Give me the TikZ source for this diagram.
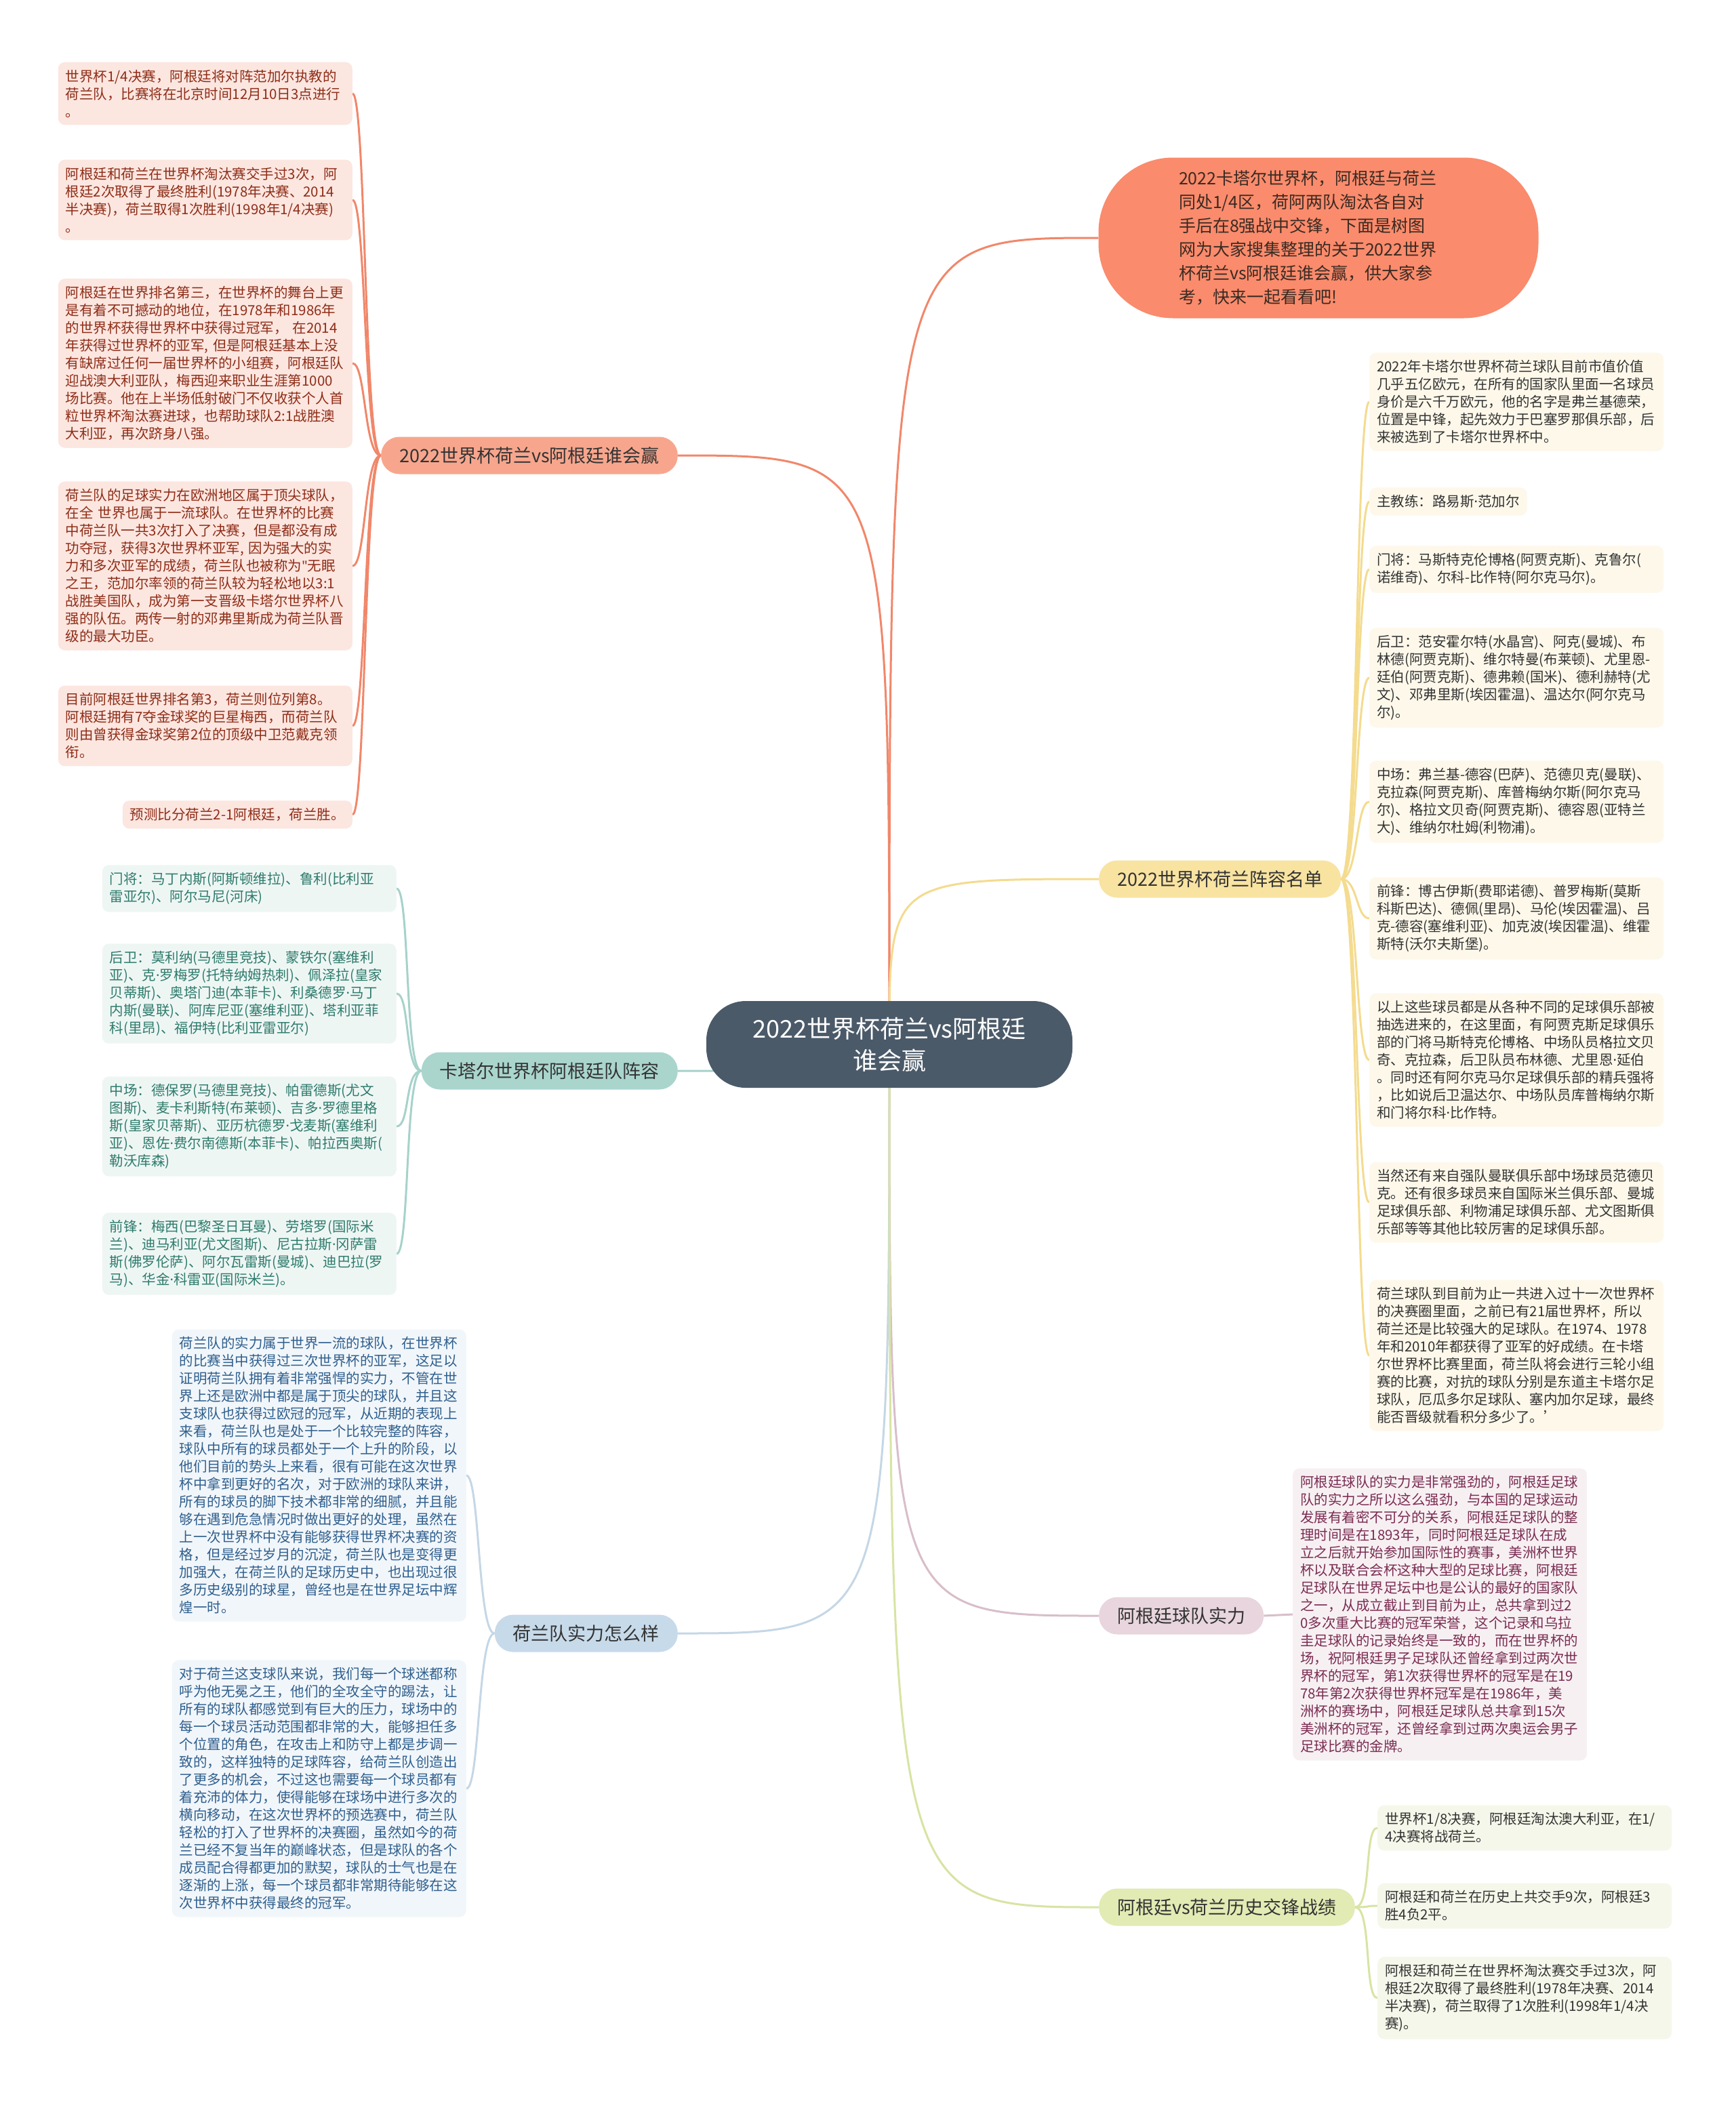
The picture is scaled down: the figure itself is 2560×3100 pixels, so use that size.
\documentclass[tikz,border=0pt]{standalone}
\usepackage{fontspec}
\setmainfont{Noto Sans CJK SC}
\newfontfamily\dotfont{Noto Sans}
\newcommand{\mdot}{{\dotfont ·}}
\usetikzlibrary{backgrounds}
\definecolor{hubfill}{HTML}{4B5A69}
\definecolor{leadfill}{HTML}{FA8B6C}
\definecolor{leadtext}{HTML}{3B2A22}
\definecolor{brtext}{HTML}{333333}
\definecolor{olink}{HTML}{F1876A}
\definecolor{obfill}{HTML}{F7A68D}
\definecolor{pkfill}{HTML}{FCE6E0}
\definecolor{pktext}{HTML}{8E2D17}
\definecolor{tlink}{HTML}{A6D2CA}
\definecolor{tbfill}{HTML}{A9D5CD}
\definecolor{tkfill}{HTML}{EEF6F4}
\definecolor{tktext}{HTML}{2E7B6C}
\definecolor{blink}{HTML}{C5D7E6}
\definecolor{bbfill}{HTML}{C7DAEA}
\definecolor{bkfill}{HTML}{F1F6FA}
\definecolor{bktext}{HTML}{2F5F8E}
\definecolor{ylink}{HTML}{F4DB8E}
\definecolor{ybfill}{HTML}{F8E3A1}
\definecolor{ykfill}{HTML}{FDF8EA}
\definecolor{mlink}{HTML}{D8BECA}
\definecolor{mbfill}{HTML}{E8D5DD}
\definecolor{mkfill}{HTML}{F7F0F2}
\definecolor{mktext}{HTML}{7A2C52}
\definecolor{glink}{HTML}{D7E4A3}
\definecolor{gbfill}{HTML}{E1EBB3}
\definecolor{gkfill}{HTML}{F5F7EA}
\tikzset{
  hub/.style    = {rectangle, rounded corners=58pt, fill=hubfill, text=white, minimum width=540pt, minimum height=128pt, align=center, font=\fontsize{36}{47}\selectfont},
  lead/.style   = {rectangle, rounded corners=110pt, fill=leadfill, text=leadtext, minimum width=649pt, minimum height=237pt, text width=412pt, align=left, font=\fontsize{25}{35}\selectfont},
  branch/.style = {rectangle, rounded corners=27pt, inner xsep=27pt, minimum height=55pt, text=brtext, font=\fontsize{27}{32}\selectfont},
  leafbase/.style = {rectangle, rounded corners=10pt, inner xsep=11pt, inner ysep=11pt, align=left, font=\fontsize{20.5}{26}\selectfont},
  leaf/.style   = {leafbase, text width=412pt},
  link/.style   = {line width=3pt}
}
\begin{document}
\begin{tikzpicture}[x=1pt, y=-1pt]
  \useasboundingbox (0,0) rectangle (2560,3100);
  % centre and intro
  \node[hub] (hub) at (1312,1541) {2022世界杯荷兰vs阿根廷\\谁会赢};
  \node[lead] (lead) at (1945,351) {2022卡塔尔世界杯，阿根廷与荷兰\\
同处1/4区，荷阿两队淘汰各自对\\
手后在8强战中交锋，下面是树图\\
网为大家搜集整理的关于2022世界\\
杯荷兰vs阿根廷谁会赢，供大家参\\
考，快来一起看看吧!};

  % branches
  \node[branch, fill=obfill, anchor=east] (ob) at (1000,672) {2022世界杯荷兰vs阿根廷谁会赢};
  \node[branch, fill=tbfill, anchor=east] (tb) at (1000,1580) {卡塔尔世界杯阿根廷队阵容};
  \node[branch, fill=bbfill, anchor=east] (bb) at (1000,2410) {荷兰队实力怎么样};
  \node[branch, fill=ybfill, anchor=west] (yb) at (1621,1297) {2022世界杯荷兰阵容名单};
  \node[branch, fill=mbfill, anchor=west] (mb) at (1621,2384) {阿根廷球队实力};
  \node[branch, fill=gbfill, anchor=west] (gb) at (1621,2814) {阿根廷vs荷兰历史交锋战绩};

  % who wins
  \node[leaf, fill=pkfill, text=pktext, anchor=east] (o1) at (520,138) {世界杯1/4决赛，阿根廷将对阵范加尔执教的\\
荷兰队，比赛将在北京时间12月10日3点进行\\
。};
  \node[leaf, fill=pkfill, text=pktext, anchor=east] (o2) at (520,295) {阿根廷和荷兰在世界杯淘汰赛交手过3次，阿\\
根廷2次取得了最终胜利(1978年决赛、2014\\
半决赛)，荷兰取得1次胜利(1998年1/4决赛)\\
。};
  \node[leaf, fill=pkfill, text=pktext, anchor=east] (o3) at (520,536) {阿根廷在世界排名第三，在世界杯的舞台上更\\
是有着不可撼动的地位，在1978年和1986年\\
的世界杯获得世界杯中获得过冠军，~在2014\\
年获得过世界杯的亚军,~但是阿根廷基本上没\\
有缺席过任何一届世界杯的小组赛，阿根廷队\\
迎战澳大利亚队，梅西迎来职业生涯第1000\\
场比赛。他在上半场低射破门不仅收获个人首\\
粒世界杯淘汰赛进球，也帮助球队2:1战胜澳\\
大利亚，再次跻身八强。};
  \node[leaf, fill=pkfill, text=pktext, anchor=east] (o4) at (520,835) {荷兰队的足球实力在欧洲地区属于顶尖球队，\\
在全~世界也属于一流球队。在世界杯的比赛\\
中荷兰队一共3次打入了决赛，但是都没有成\\
功夺冠，获得3次世界杯亚军,~因为强大的实\\
力和多次亚军的成绩，荷兰队也被称为{\dotfont "}无眠\\
之王，范加尔率领的荷兰队较为轻松地以3:1\\
战胜美国队，成为第一支晋级卡塔尔世界杯八\\
强的队伍。两传一射的邓弗里斯成为荷兰队晋\\
级的最大功臣。};
  \node[leaf, fill=pkfill, text=pktext, anchor=east] (o5) at (520,1071) {目前阿根廷世界排名第3，荷兰则位列第8。\\
阿根廷拥有7夺金球奖的巨星梅西，而荷兰队\\
则由曾获得金球奖第2位的顶级中卫范戴克领\\
衔。};
  \node[leafbase, fill=pkfill, text=pktext, anchor=east] (o6) at (520,1202) {预测比分荷兰2-1阿根廷，荷兰胜。};

  % argentina squad
  \node[leaf, fill=tkfill, text=tktext, anchor=east] (t1) at (585,1311) {门将：马丁内斯(阿斯顿维拉)、鲁利(比利亚\\
雷亚尔)、阿尔马尼(河床)};
  \node[leaf, fill=tkfill, text=tktext, anchor=east] (t2) at (585,1466) {后卫：莫利纳(马德里竞技)、蒙铁尔(塞维利\\
亚)、克\mdot 罗梅罗(托特纳姆热刺)、佩泽拉(皇家\\
贝蒂斯)、奥塔门迪(本菲卡)、利桑德罗\mdot 马丁\\
内斯(曼联)、阿库尼亚(塞维利亚)、塔利亚菲\\
科(里昂)、福伊特(比利亚雷亚尔)};
  \node[leaf, fill=tkfill, text=tktext, anchor=east] (t3) at (585,1662) {中场：德保罗(马德里竞技)、帕雷德斯(尤文\\
图斯)、麦卡利斯特(布莱顿)、吉多\mdot 罗德里格\\
斯(皇家贝蒂斯)、亚历杭德罗\mdot 戈麦斯(塞维利\\
亚)、恩佐\mdot 费尔南德斯(本菲卡)、帕拉西奥斯(\\
勒沃库森)};
  \node[leaf, fill=tkfill, text=tktext, anchor=east] (t4) at (585,1850) {前锋：梅西(巴黎圣日耳曼)、劳塔罗(国际米\\
兰)、迪马利亚(尤文图斯)、尼古拉斯\mdot 冈萨雷\\
斯(佛罗伦萨)、阿尔瓦雷斯(曼城)、迪巴拉(罗\\
马)、华金\mdot 科雷亚(国际米兰)。};

  % netherlands strength
  \node[leaf, fill=bkfill, text=bktext, anchor=east] (b1) at (688,2177) {荷兰队的实力属于世界一流的球队，在世界杯\\
的比赛当中获得过三次世界杯的亚军，这足以\\
证明荷兰队拥有着非常强悍的实力，不管在世\\
界上还是欧洲中都是属于顶尖的球队，并且这\\
支球队也获得过欧冠的冠军，从近期的表现上\\
来看，荷兰队也是处于一个比较完整的阵容，\\
球队中所有的球员都处于一个上升的阶段，以\\
他们目前的势头上来看，很有可能在这次世界\\
杯中拿到更好的名次，对于欧洲的球队来讲，\\
所有的球员的脚下技术都非常的细腻，并且能\\
够在遇到危急情况时做出更好的处理，虽然在\\
上一次世界杯中没有能够获得世界杯决赛的资\\
格，但是经过岁月的沉淀，荷兰队也是变得更\\
加强大，在荷兰队的足球历史中，也出现过很\\
多历史级别的球星，曾经也是在世界足坛中辉\\
煌一时。};
  \node[leaf, fill=bkfill, text=bktext, anchor=east] (b2) at (688,2639) {对于荷兰这支球队来说，我们每一个球迷都称\\
呼为他无冕之王，他们的全攻全守的踢法，让\\
所有的球队都感觉到有巨大的压力，球场中的\\
每一个球员活动范围都非常的大，能够担任多\\
个位置的角色，在攻击上和防守上都是步调一\\
致的，这样独特的足球阵容，给荷兰队创造出\\
了更多的机会，不过这也需要每一个球员都有\\
着充沛的体力，使得能够在球场中进行多次的\\
横向移动，在这次世界杯的预选赛中，荷兰队\\
轻松的打入了世界杯的决赛圈，虽然如今的荷\\
兰已经不复当年的巅峰状态，但是球队的各个\\
成员配合得都更加的默契，球队的士气也是在\\
逐渐的上涨，每一个球员都非常期待能够在这\\
次世界杯中获得最终的冠军。};

  % netherlands squad
  \node[leaf, fill=ykfill, text=brtext, anchor=west] (y1) at (2020,593) {2022年卡塔尔世界杯荷兰球队目前市值价值\\
几乎五亿欧元，在所有的国家队里面一名球员\\
身价是六千万欧元，他的名字是弗兰基德荣，\\
位置是中锋，起先效力于巴塞罗那俱乐部，后\\
来被选到了卡塔尔世界杯中。};
  \node[leafbase, fill=ykfill, text=brtext, anchor=west] (y2) at (2020,740) {主教练：路易斯\mdot 范加尔};
  \node[leaf, fill=ykfill, text=brtext, anchor=west] (y3) at (2020,840) {门将：马斯特克伦博格(阿贾克斯)、克鲁尔(\\
诺维奇)、尔科-比作特(阿尔克马尔)。};
  \node[leaf, fill=ykfill, text=brtext, anchor=west] (y4) at (2020,1000) {后卫：范安霍尔特(水晶宫)、阿克(曼城)、布\\
林德(阿贾克斯)、维尔特曼(布莱顿)、尤里恩-\\
廷伯(阿贾克斯)、德弗赖(国米)、德利赫特(尤\\
文)、邓弗里斯(埃因霍温)、温达尔(阿尔克马\\
尔)。};
  \node[leaf, fill=ykfill, text=brtext, anchor=west] (y5) at (2020,1183) {中场：弗兰基-德容(巴萨)、范德贝克(曼联)、\\
克拉森(阿贾克斯)、库普梅纳尔斯(阿尔克马\\
尔)、格拉文贝奇(阿贾克斯)、德容恩(亚特兰\\
大)、维纳尔杜姆(利物浦)。};
  \node[leaf, fill=ykfill, text=brtext, anchor=west] (y6) at (2020,1355) {前锋：博古伊斯(费耶诺德)、普罗梅斯(莫斯\\
科斯巴达)、德佩(里昂)、马伦(埃因霍温)、吕\\
克-德容(塞维利亚)、加克波(埃因霍温)、维霍\\
斯特(沃尔夫斯堡)。};
  \node[leaf, fill=ykfill, text=brtext, anchor=west] (y7) at (2020,1564) {以上这些球员都是从各种不同的足球俱乐部被\\
抽选进来的，在这里面，有阿贾克斯足球俱乐\\
部的门将马斯特克伦博格、中场队员格拉文贝\\
奇、克拉森，后卫队员布林德、尤里恩\mdot 延伯\\
。同时还有阿尔克马尔足球俱乐部的精兵强将\\
，比如说后卫温达尔、中场队员库普梅纳尔斯\\
和门将尔科\mdot 比作特。};
  \node[leaf, fill=ykfill, text=brtext, anchor=west] (y8) at (2020,1774) {当然还有来自强队曼联俱乐部中场球员范德贝\\
克。还有很多球员来自国际米兰俱乐部、曼城\\
足球俱乐部、利物浦足球俱乐部、尤文图斯俱\\
乐部等等其他比较厉害的足球俱乐部。};
  \node[leaf, fill=ykfill, text=brtext, anchor=west] (y9) at (2020,2000) {荷兰球队到目前为止一共进入过十一次世界杯\\
的决赛圈里面，之前已有21届世界杯，所以\\
荷兰还是比较强大的足球队。在1974、1978\\
年和2010年都获得了亚军的好成绩。在卡塔\\
尔世界杯比赛里面，荷兰队将会进行三轮小组\\
赛的比赛，对抗的球队分别是东道主卡塔尔足\\
球队，厄瓜多尔足球队、塞内加尔足球，最终\\
能否晋级就看积分多少了。'};

  % argentina strength
  \node[leaf, fill=mkfill, text=mktext, anchor=west] (m1) at (1907,2382) {阿根廷球队的实力是非常强劲的，阿根廷足球\\
队的实力之所以这么强劲，与本国的足球运动\\
发展有着密不可分的关系，阿根廷足球队的整\\
理时间是在1893年，同时阿根廷足球队在成\\
立之后就开始参加国际性的赛事，美洲杯世界\\
杯以及联合会杯这种大型的足球比赛，阿根廷\\
足球队在世界足坛中也是公认的最好的国家队\\
之一，从成立截止到目前为止，总共拿到过2\\
0多次重大比赛的冠军荣誉，这个记录和乌拉\\
圭足球队的记录始终是一致的，而在世界杯的\\
场，祝阿根廷男子足球队还曾经拿到过两次世\\
界杯的冠军，第1次获得世界杯的冠军是在19\\
78年第2次获得世界杯冠军是在1986年，美\\
洲杯的赛场中，阿根廷足球队总共拿到15次\\
美洲杯的冠军，还曾经拿到过两次奥运会男子\\
足球比赛的金牌。};

  % head to head
  \node[leaf, fill=gkfill, text=brtext, anchor=west] (g1) at (2032,2697) {世界杯1/8决赛，阿根廷淘汰澳大利亚，在1/\\
4决赛将战荷兰。};
  \node[leaf, fill=gkfill, text=brtext, anchor=west] (g2) at (2032,2812) {阿根廷和荷兰在历史上共交手9次，阿根廷3\\
胜4负2平。};
  \node[leaf, fill=gkfill, text=brtext, anchor=west] (g3) at (2032,2948) {阿根廷和荷兰在世界杯淘汰赛交手过3次，阿\\
根廷2次取得了最终胜利(1978年决赛、2014\\
半决赛)，荷兰取得了1次胜利(1998年1/4决\\
赛)。};

  \begin{pgfonlayer}{background}
    \fill[white] (0,0) rectangle (2560,3100);
    % centre to branches
    \draw[link, draw=olink] (hub.center) .. controls (hub.center |- lead.west) and (hub.center |- lead.west) .. (lead.west);
    \draw[link, draw=olink] (hub.center) .. controls (hub.center |- ob.east) and (hub.center |- ob.east) .. (ob.east);
    \draw[link, draw=tlink] (hub.center) .. controls (hub.center |- tb.east) and (hub.center |- tb.east) .. (tb.east);
    \draw[link, draw=blink] (hub.center) .. controls (hub.center |- bb.east) and (hub.center |- bb.east) .. (bb.east);
    \draw[link, draw=ylink] (hub.center) .. controls (hub.center |- yb.west) and (hub.center |- yb.west) .. (yb.west);
    \draw[link, draw=mlink] (hub.center) .. controls (hub.center |- mb.west) and (hub.center |- mb.west) .. (mb.west);
    \draw[link, draw=glink] (hub.center) .. controls (hub.center |- gb.west) and (hub.center |- gb.west) .. (gb.west);
    % branches to leaves
    \foreach \n in {o1,o2,o3,o4,o5,o6}
      \draw[link, draw=olink] (ob.west) .. controls +(-25,0) and +(20,0) .. (\n.east);
    \foreach \n in {t1,t2,t3,t4}
      \draw[link, draw=tlink] (tb.west) .. controls +(-25,0) and +(20,0) .. (\n.east);
    \foreach \n in {b1,b2}
      \draw[link, draw=blink] (bb.west) .. controls +(-25,0) and +(20,0) .. (\n.east);
    \foreach \n in {y1,y2,y3,y4,y5,y6,y7,y8,y9}
      \draw[link, draw=ylink] (yb.east) .. controls +(25,0) and +(-20,0) .. (\n.west);
    \draw[link, draw=mlink] (mb.east) -- (m1.west);
    \foreach \n in {g1,g2,g3}
      \draw[link, draw=glink] (gb.east) .. controls +(25,0) and +(-20,0) .. (\n.west);
  \end{pgfonlayer}
\end{tikzpicture}
\end{document}
